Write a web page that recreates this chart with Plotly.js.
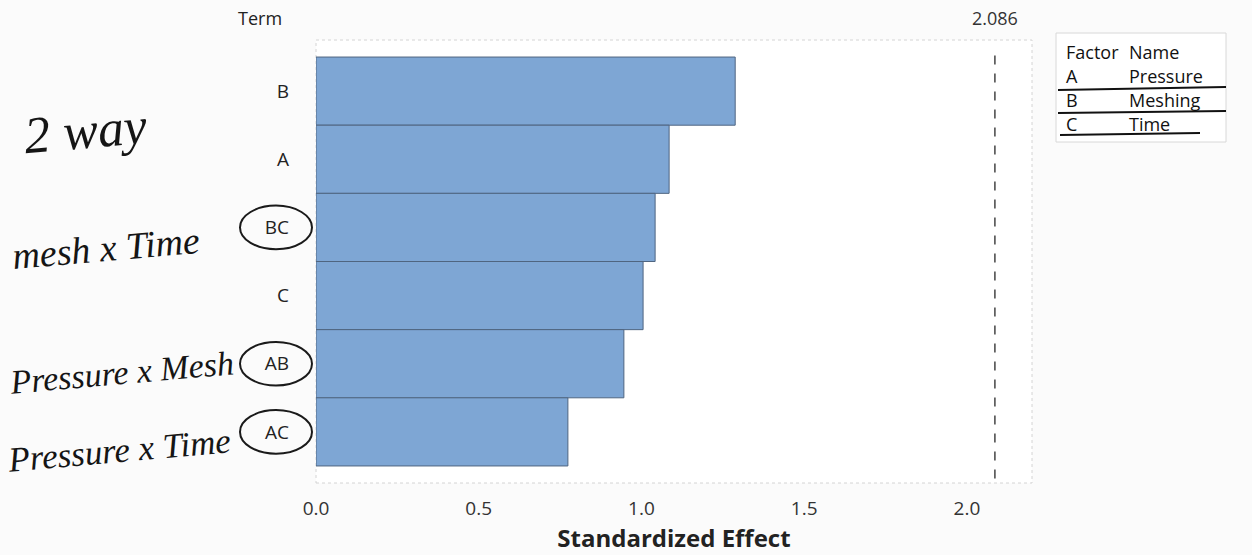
<!DOCTYPE html>
<html>
<head>
<meta charset="utf-8">
<script src="https://cdn.plot.ly/plotly-3.0.1.min.js"></script>
<style>
  html, body { margin: 0; padding: 0; background: #fbfbfb; }
  #chart { width: 1252px; height: 555px; }
</style>
</head>
<body>
<div id="chart"></div>
<script>
// Pareto chart of standardized effects (alpha = 0.05)
const terms = ["B", "A", "BC", "C", "AB", "AC"];
const effects = [1.288, 1.085, 1.042, 1.005, 0.946, 0.774];
const referenceValue = 2.086;
const xTicks = [0, 0.5, 1.0, 1.5, 2.0];
const xTickText = ["0.0", "0.5", "1.0", "1.5", "2.0"];
const factorCodes = ["Factor", "A", "B", "C"];
const factorNames = ["Name", "Pressure", "Meshing", "Time"];
// handwritten notes beside the term labels
const notes = ["2 way", "mesh x Time", "Pressure x Mesh", "Pressure x Time"];
const circled = ["BC", "AB", "AC"];

const uiFont = "Open Sans, Noto Sans, sans-serif";
const inkFont = "Liberation Serif, DejaVu Serif, serif";

// plot area in pixels, used to place paper-referenced extras
const PL = 316, PR = 1032, PT = 40, PB = 483;
const px = (v) => (v - PL) / (PR - PL);
const py = (v) => 1 - (v - PT) / (PB - PT);

const trace = {
  type: "bar",
  orientation: "h",
  x: effects,
  y: terms,
  width: 1,
  marker: { color: "#7ea6d4", line: { color: "#4f6580", width: 1 } },
  hoverinfo: "x+y"
};

const annotations = [];
annotations.push({ xref: "paper", yref: "paper", x: px(260), y: py(18), xanchor: "center", yanchor: "middle",
  text: "Term", showarrow: false, font: { family: uiFont, size: 18, color: "#222" } });
annotations.push({ xref: "x", yref: "paper", x: referenceValue, y: py(18), yanchor: "middle",
  text: referenceValue.toFixed(3), showarrow: false, font: { family: uiFont, size: 18, color: "#333" } });

// factor table
const tableX0 = 1056, tableY0 = 33, rowH = 24;
for (let i = 0; i < factorCodes.length; i++) {
  annotations.push({ xref: "paper", yref: "paper",
    x: px(tableX0 + 8), y: py(tableY0 + 19 + i * rowH),
    xanchor: "left", yanchor: "middle", text: factorCodes[i], showarrow: false,
    font: { family: uiFont, size: 18, color: "#111" } });
  annotations.push({ xref: "paper", yref: "paper",
    x: px(tableX0 + 71), y: py(tableY0 + 19 + i * rowH),
    xanchor: "left", yanchor: "middle", text: factorNames[i], showarrow: false,
    font: { family: uiFont, size: 18, color: "#111" } });
}

// notes in ink
const notePos = [[20, 130, 52], [8, 248, 38], [6, 372, 34], [4, 450, 35]];
notes.forEach((t, i) => {
  annotations.push({ xref: "paper", yref: "paper",
    x: px(notePos[i][0]), y: py(notePos[i][1]),
    xanchor: "left", yanchor: "middle", text: t, showarrow: false, textangle: -5,
    font: { family: inkFont, size: notePos[i][2], color: "#151515", style: "italic" } });
});

const shapes = [
  // plot frame
  { type: "rect", xref: "paper", yref: "paper", x0: 0, x1: 1, y0: 0, y1: 1,
    line: { color: "#d4d4d4", width: 1, dash: "dot" }, layer: "below" },
  // reference line
  { type: "line", xref: "x", yref: "paper", x0: referenceValue, x1: referenceValue, y0: 0.01, y1: 0.985,
    line: { color: "#444", width: 1.5, dash: "dash" } },
  // factor table box
  { type: "rect", xref: "paper", yref: "paper",
    x0: px(tableX0), x1: px(1226), y0: py(142), y1: py(tableY0),
    line: { color: "#d8d8d8", width: 1 }, fillcolor: "#ffffff" }
];
// ink underlines in the table
[[1058, 1226, 90, 87], [1058, 1226, 113, 111], [1060, 1200, 135, 133]].forEach(([a, b, y0, y1]) => {
  shapes.push({ type: "line", xref: "paper", yref: "paper",
    x0: px(a), x1: px(b), y0: py(y0), y1: py(y1),
    line: { color: "#111", width: 2 } });
});
// circles round the interaction terms
circled.forEach((t) => {
  const idx = terms.indexOf(t);
  shapes.push({ type: "circle", xref: "paper", yref: "y",
    x0: px(240), x1: px(312), y0: idx - 0.32, y1: idx + 0.32,
    line: { color: "#1a1a1a", width: 2 } });
});

const layout = {
  width: 1252, height: 555,
  margin: { l: PL, r: 1252 - PR, t: PT, b: 555 - PB },
  paper_bgcolor: "#fbfbfb",
  plot_bgcolor: "#ffffff",
  showlegend: false,
  bargap: 0,
  xaxis: {
    range: [0, 2.2], tickvals: xTicks, ticktext: xTickText,
    showgrid: false, zeroline: false, showline: false, ticks: "",
    ticklabelstandoff: 12,
    tickfont: { family: uiFont, size: 19, color: "#333" },
    title: { text: "<b>Standardized Effect</b>", font: { family: uiFont, size: 24, color: "#222" }, standoff: 2 }
  },
  yaxis: {
    type: "category", categoryorder: "array", categoryarray: terms,
    range: [5.75, -0.75],
    showgrid: false, zeroline: false, showline: false, ticks: "",
    ticklabelstandoff: 26,
    tickfont: { family: uiFont, size: 19, color: "#222" }
  },
  annotations: annotations,
  shapes: shapes
};

Plotly.newPlot("chart", [trace], layout, { displayModeBar: false, staticPlot: true });
</script>
</body>
</html>
